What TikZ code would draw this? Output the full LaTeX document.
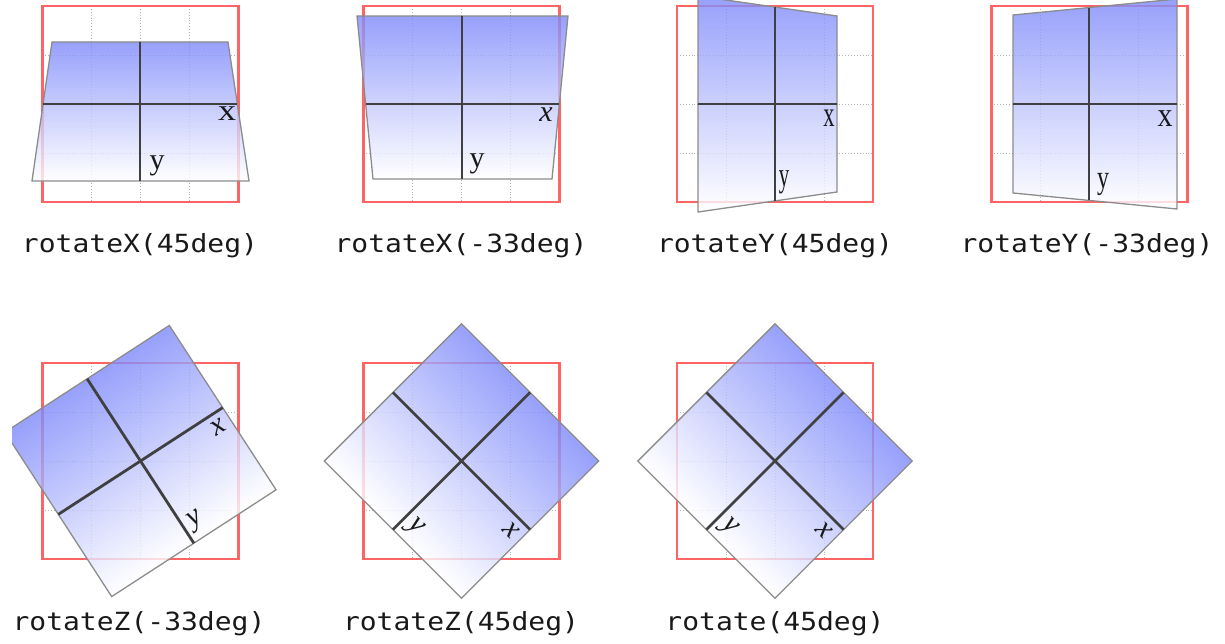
\documentclass[tikz,border=0pt]{standalone}
\usepackage{fontspec}
\newfontfamily\capfont[FakeStretch=1.12]{DejaVu Sans Mono}
\newfontfamily\axfont{Liberation Serif}
\definecolor{planeblue}{RGB}{125,137,250}
\definecolor{framered}{RGB}{255,100,100}
\begin{document}
\begin{tikzpicture}[x=1pt,y=-1pt,
  frame/.style={draw=framered,line width=2.2pt},
  gridline/.style={draw=gray!60,dotted,line width=0.9pt},
  plane/.style={draw=gray!90,line width=1.3pt,top color=planeblue,bottom color=white,fill opacity=0.8},
  axis/.style={draw=black!75,line width=2.8pt},
  axlabel/.style={inner sep=0pt,text=black!90,font=\axfont\fontsize{30}{30}\selectfont},
  itlabel/.style={axlabel,font=\axfont\itshape\fontsize{30}{30}\selectfont},
  caption/.style={inner sep=0pt,anchor=base,text=black!90,font=\capfont\fontsize{25}{25}\selectfont}]
  \useasboundingbox (0,0) rectangle (1225,644);
  \foreach \cx/\cy in {140.5/104,461.5/104,775/104,1089.5/104,140.5/461,461.5/461,775/461}{
    \foreach \k in {-49,0,49}{
      \draw[gridline] ({\cx+\k},{\cy-98}) -- ({\cx+\k},{\cy+98});
      \draw[gridline] ({\cx-98},{\cy+\k}) -- ({\cx+98},{\cy+\k});
    }
    \draw[frame] ({\cx-98},{\cy-98}) rectangle ({\cx+98},{\cy+98});
  }
  \draw[plane] (52,42) -- (228,42) -- (249,181) -- (32,181) -- cycle;
  \draw[axis] (43,104) -- (237,104);
  \draw[axis] (140,42) -- (140,181);
  \node[axlabel,xscale=1.2] (x1) at (227,114) {x};
  \node[axlabel] (y1) at (157,166) {y};
  \node[caption] (c1) at (140,253) {rotateX(45deg)};
  \draw[plane] (357,16) -- (568,16) -- (552,179) -- (373,179) -- cycle;
  \draw[axis] (366,104) -- (559,104);
  \draw[axis] (462,16) -- (462,179);
  \node[itlabel] (x2) at (546,115) {x};
  \node[axlabel] (y2) at (477,164) {y};
  \node[caption] (c2) at (461,253) {rotateX(-33deg)};
  \draw[plane] (698,-4) -- (837,16) -- (837,192) -- (698,212) -- cycle;
  \draw[axis] (698,104) -- (837,104);
  \draw[axis] (775,7) -- (775,201);
  \node[axlabel,xscale=0.75,yscale=1.2] (x3) at (829,118) {x};
  \node[axlabel,xscale=0.7,yscale=1.15] (y3) at (784,182) {y};
  \node[caption] (c3) at (775,253) {rotateY(45deg)};
  \draw[plane] (1013,15) -- (1177,-1) -- (1177,209) -- (1013,193) -- cycle;
  \draw[axis] (1013,104) -- (1177,104);
  \draw[axis] (1089,8) -- (1089,200);
  \node[axlabel,yscale=1.15] (x4) at (1165,119) {x};
  \node[axlabel,xscale=0.8,yscale=1.1] (y4) at (1103,184) {y};
  \node[caption] (c4) at (1087,253) {rotateY(-33deg)};
  \begin{scope}
    \clip (12,300) rectangle (320,644);
    \begin{scope}[transform canvas={shift={(140.5,461)},rotate=33}]
      \draw[plane] (-98,-98) rectangle (98,98);
      \draw[axis] (-98,0) -- (98,0);
      \draw[axis] (0,-98) -- (0,98);
      \node[itlabel] (x5) at (84,14) {x};
      \node[itlabel] (y5) at (14,80) {y};
    \end{scope}
  \end{scope}
  \node[caption] (c5) at (139,630) {rotateZ(-33deg)};
  \begin{scope}[transform canvas={shift={(461.5,461)},rotate=-45}]
    \draw[plane] (-97,-97) rectangle (97,97);
    \draw[axis] (-97,0) -- (97,0);
    \draw[axis] (0,-97) -- (0,97);
    \node[itlabel] (x6) at (84,14) {x};
    \node[itlabel] (y6) at (14,80) {y};
  \end{scope}
  \node[caption] (c6) at (461,630) {rotateZ(45deg)};
  \begin{scope}[transform canvas={shift={(775,461)},rotate=-45}]
    \draw[plane] (-97,-97) rectangle (97,97);
    \draw[axis] (-97,0) -- (97,0);
    \draw[axis] (0,-97) -- (0,97);
    \node[itlabel] (x7) at (84,14) {x};
    \node[itlabel] (y7) at (14,80) {y};
  \end{scope}
  \node[caption] (c7) at (775,630) {rotate(45deg)};
\end{tikzpicture}
\end{document}
